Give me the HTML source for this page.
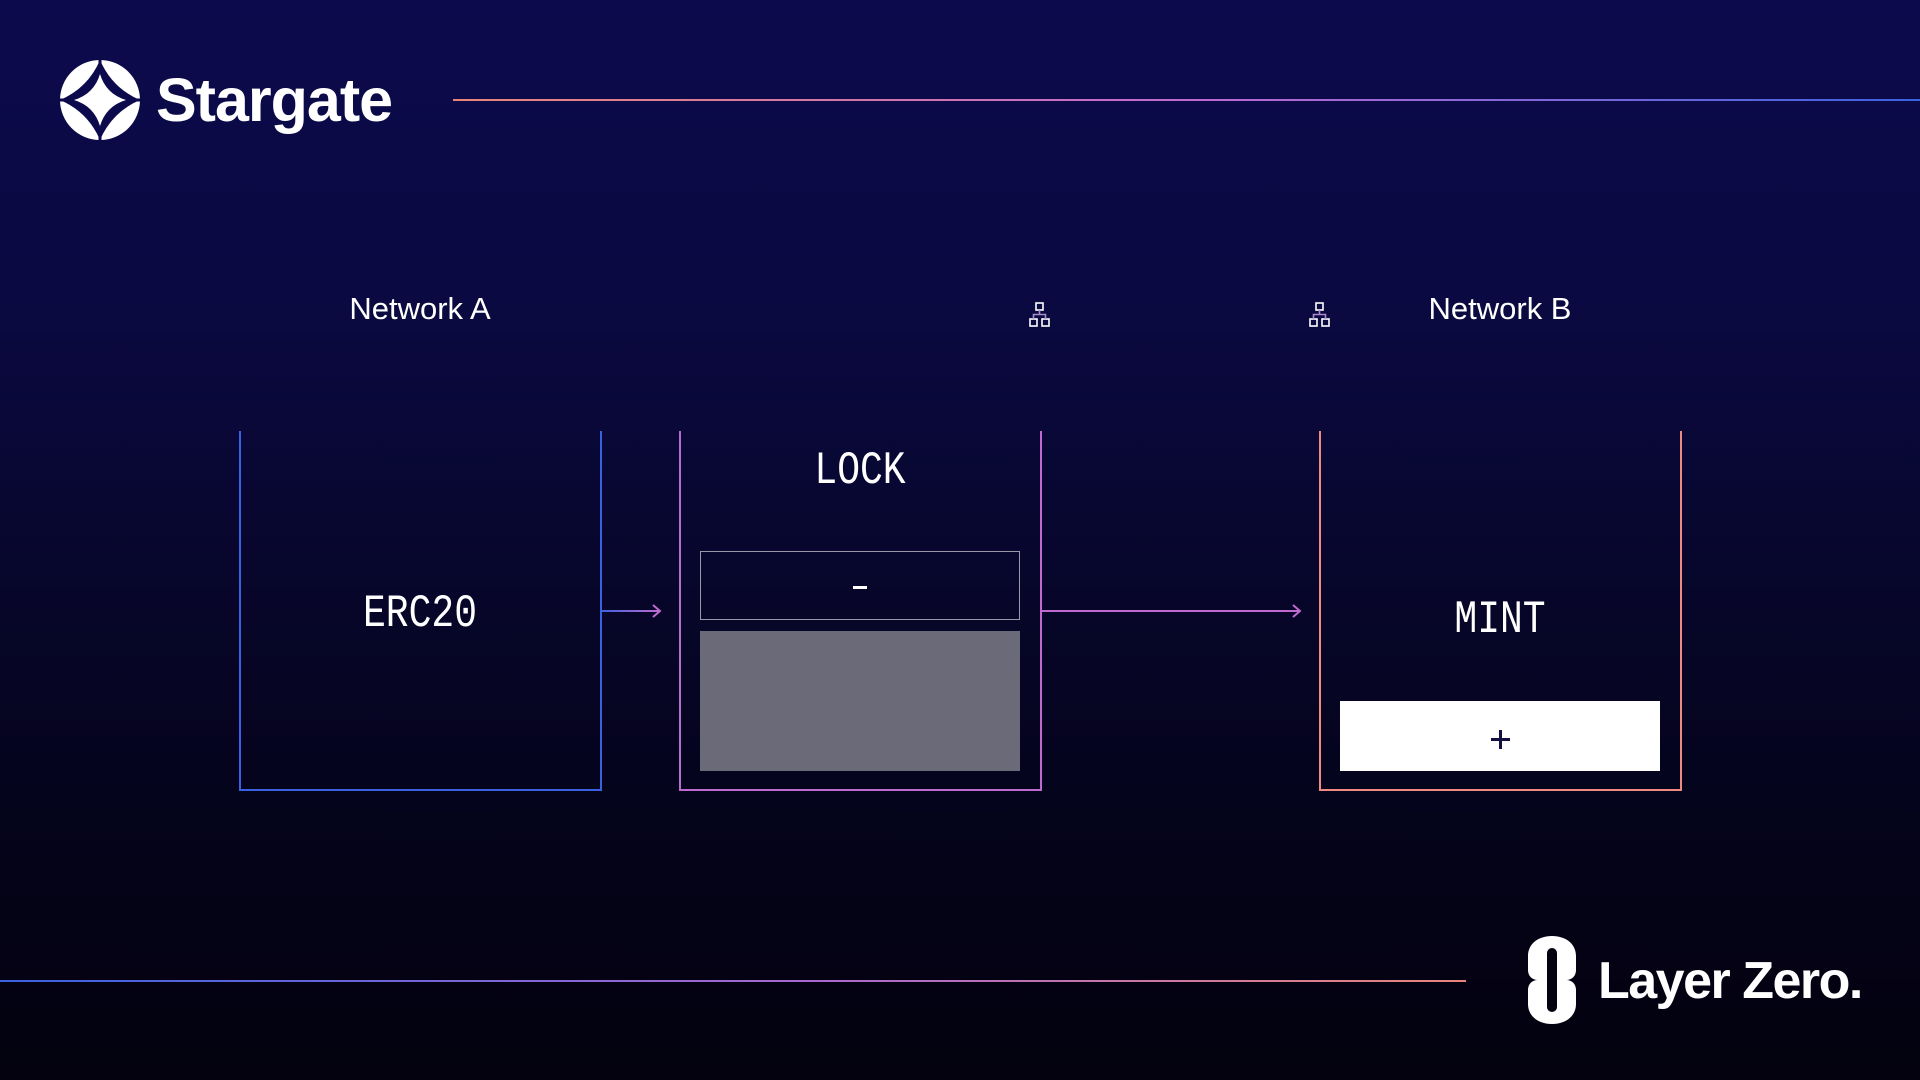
<!DOCTYPE html>
<html><head><meta charset="utf-8"><style>
html,body{margin:0;padding:0}
body{width:1920px;height:1080px;overflow:hidden;position:relative;background:linear-gradient(180deg,#0c0a4c 0%,#0a0940 30%,#07062a 55%,#040318 80%,#03020e 100%);font-family:"Liberation Sans",sans-serif;color:#fff}
.a{position:absolute}
.mono{font-family:"Liberation Mono",monospace;font-size:38px;text-align:center;color:#fff;transform:scaleY(1.22)}
.net{font-size:31px;text-align:center;width:300px}
</style></head><body>
<div class="a" style="left:453px;top:99px;width:1467px;height:2px;background:linear-gradient(90deg,#e8857a,#c06ad0 50%,#3a62e0)"></div>
<div class="a" style="left:0;top:980px;width:1466px;height:2px;background:linear-gradient(90deg,#3a62e0,#a868d0 55%,#e8857a)"></div>
<svg class="a" style="left:58px;top:58px" width="84" height="84" viewBox="0 0 84 84">
<circle cx="42" cy="42" r="40" fill="#fff"/>
<g fill="#0c0a4c">
<path d="M42 2 Q30 30 2 42 Q30 54 42 82 Q54 54 82 42 Q54 30 42 2Z"/>
</g>
<path d="M42 16 Q36 36 16 42 Q36 48 42 68 Q48 48 68 42 Q48 36 42 16Z" fill="#fff"/>
<g stroke="#0c0a4c" stroke-width="3"><line x1="42" y1="2" x2="42" y2="14"/><line x1="42" y1="70" x2="42" y2="82"/><line x1="2" y1="42" x2="14" y2="42"/><line x1="70" y1="42" x2="82" y2="42"/></g>
</svg>
<div class="a" style="left:156px;top:65px;font-size:61px;font-weight:bold;letter-spacing:-1px">Stargate</div>
<div class="a net" style="left:270px;top:291px">Network A</div>
<div class="a net" style="left:1350px;top:291px">Network B</div>
<svg class="a" style="left:1029px;top:302px" width="22" height="26" viewBox="0 0 22 26"><g fill="none" stroke="#fff" stroke-width="1.6"><rect x="7" y="1" width="7" height="7"/><rect x="1" y="17" width="7" height="7"/><rect x="13" y="17" width="7" height="7"/></g><g fill="none" stroke="#a98acc" stroke-width="1.6"><path d="M10.5 8v4.5M4.5 17v-4.5h12V17"/></g></svg>
<svg class="a" style="left:1309px;top:302px" width="22" height="26" viewBox="0 0 22 26"><g fill="none" stroke="#fff" stroke-width="1.6"><rect x="7" y="1" width="7" height="7"/><rect x="1" y="17" width="7" height="7"/><rect x="13" y="17" width="7" height="7"/></g><g fill="none" stroke="#a98acc" stroke-width="1.6"><path d="M10.5 8v4.5M4.5 17v-4.5h12V17"/></g></svg>
<div class="a" style="left:239px;top:431px;width:359px;height:358px;border:2px solid #3a62e0;border-top:none"></div>
<div class="a" style="left:679px;top:431px;width:359px;height:358px;border:2px solid #c06ad0;border-top:none;border-left-color:#b070cc"></div>
<div class="a" style="left:1319px;top:431px;width:359px;height:358px;border:2px solid #ee8a82;border-top:none"></div>
<div class="a mono" style="left:240px;width:360px;top:593px">ERC20</div>
<div class="a mono" style="left:680px;width:360px;top:450px">LOCK</div>
<div class="a mono" style="left:1320px;width:360px;top:599px">MINT</div>
<div class="a" style="left:700px;top:551px;width:318px;height:67px;border:1px solid #9a98a8"></div>
<div class="a" style="left:853px;top:586px;width:14px;height:3px;background:#fff"></div>
<div class="a" style="left:700px;top:631px;width:320px;height:140px;background:#6a6a78"></div>
<div class="a" style="left:1340px;top:701px;width:320px;height:70px;background:#fff"></div>
<div class="a" style="left:1491px;top:738px;width:19px;height:3px;background:#141040"></div>
<div class="a" style="left:1499px;top:730px;width:3px;height:19px;background:#141040"></div>
<div class="a" style="left:600px;top:610px;width:59px;height:2px;background:linear-gradient(90deg,#3a62e0,#c06ad0)"></div>
<svg class="a" style="left:0;top:0" width="1920" height="1080">
<path d="M653 605L660 611L653 617" fill="none" stroke="#c06ad0" stroke-width="2"/>
<line x1="1040" y1="611" x2="1299" y2="611" stroke="#c06ad0" stroke-width="2"/>
<path d="M1293 605L1300 611L1293 617" fill="none" stroke="#c06ad0" stroke-width="2"/>
</svg>
<svg class="a" style="left:1526px;top:936px" width="52" height="88" viewBox="0 0 52 88">
<path d="M26 0C40 0 50 8 50 20V34C50 40 46 44 40 44C46 44 50 48 50 54V68C50 80 40 88 26 88C12 88 2 80 2 68V54C2 48 6 44 12 44C6 44 2 40 2 34V20C2 8 12 0 26 0Z" fill="#fff"/>
<rect x="21" y="12" width="10" height="64" rx="5" fill="#03020e"/>
</svg>
<div class="a" style="left:1598px;top:951px;font-size:52px;font-weight:bold;letter-spacing:-1.5px">Layer Zero.</div>
</body></html>
